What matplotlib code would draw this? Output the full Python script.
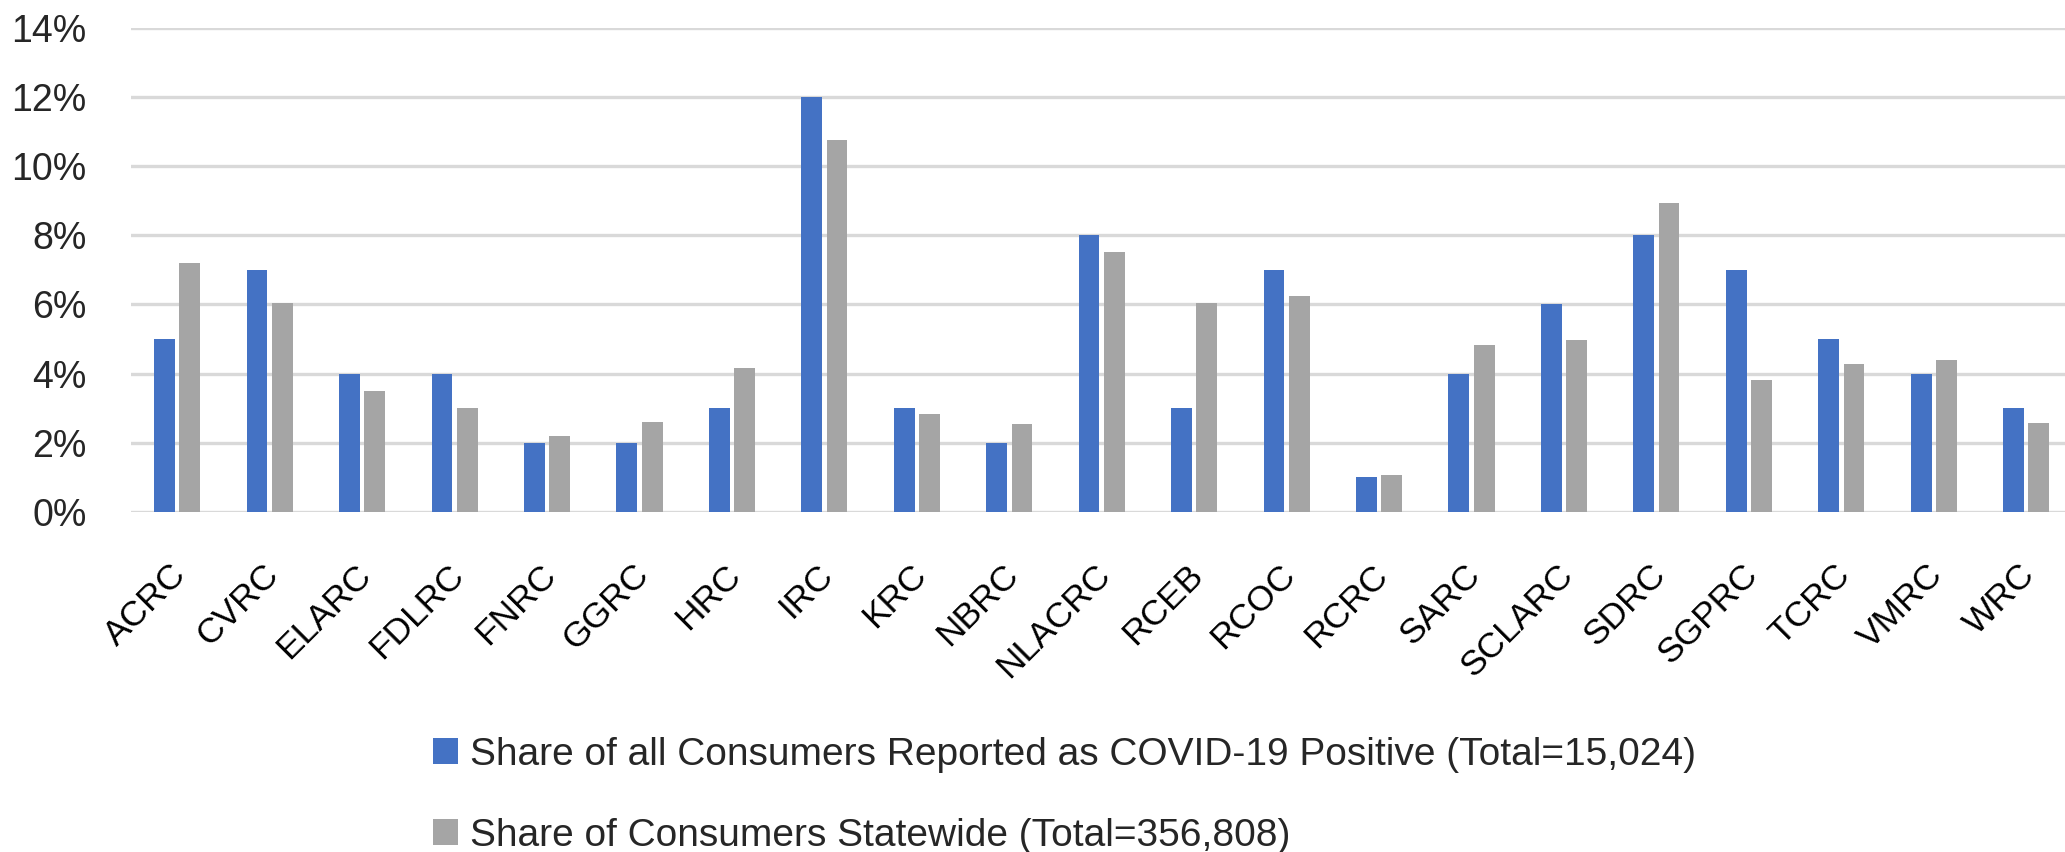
import matplotlib
matplotlib.use("Agg")
import matplotlib.pyplot as plt
import numpy as np
from matplotlib.ticker import FuncFormatter

categories = ["ACRC", "CVRC", "ELARC", "FDLRC", "FNRC", "GGRC", "HRC", "IRC", "KRC",
              "NBRC", "NLACRC", "RCEB", "RCOC", "RCRC", "SARC", "SCLARC", "SDRC",
              "SGPRC", "TCRC", "VMRC", "WRC"]
covid_positive = [5, 7, 4, 4, 2, 2, 3, 12, 3, 2, 8, 3, 7, 1, 4, 6, 8, 7, 5, 4, 3]
statewide = [7.2, 6.05, 3.5, 3.0, 2.2, 2.6, 4.15, 10.75, 2.82, 2.54, 7.51, 6.03,
             6.23, 1.07, 4.83, 4.96, 8.93, 3.81, 4.29, 4.38, 2.56]
series_labels = ["Share of all Consumers Reported as COVID-19 Positive (Total=15,024)",
                 "Share of Consumers Statewide (Total=356,808)"]
yticks = [0, 2, 4, 6, 8, 10, 12, 14]

plt.rcParams['font.family'] = ['Liberation Sans', 'DejaVu Sans']

W, H = 2065, 852
fig = plt.figure(figsize=(W / 100, H / 100), dpi=100)
left_px, bottom_px, top_px = 131, 512, 27.5
ax = fig.add_axes([left_px / W, 1 - bottom_px / H, 1 - left_px / W, (bottom_px - top_px) / H])

x = np.arange(len(categories))
bw = 0.225
off = 0.137
b1 = ax.bar(x - off, covid_positive, width=bw, color="#4472C4", label=series_labels[0], zorder=3)
b2 = ax.bar(x + off, statewide, width=bw, color="#A5A5A5", label=series_labels[1], zorder=3)

spacing_px = 92.45
ax.set_xlim(-0.5, -0.5 + (W - left_px) / spacing_px)
ax.set_ylim(0, 14)
ax.set_yticks(yticks)
ax.yaxis.set_major_formatter(FuncFormatter(lambda v, p: f"{v:.0f}%"))
ax.grid(axis="y", color="#D9D9D9", linewidth=2.4, zorder=0)
for s in ax.spines.values():
    s.set_visible(False)
ax.tick_params(axis="y", length=0, labelsize=27, colors="#262626", pad=32)
ax.tick_params(axis="x", length=0, labelsize=25.5, colors="#000000")

ax.set_xticks(x - 0.085)
ax.set_xticklabels(categories, rotation=45, ha="right", va="top", rotation_mode="anchor")
for lbl in ax.get_xticklabels():
    lbl.set_y(-0.085)

leg = fig.legend(handles=[b1, b2], labels=series_labels, loc="upper left",
                 bbox_to_anchor=(433 / W, 1 - 737 / H), frameon=False, fontsize=28,
                 handlelength=0.65, handleheight=0.65, handletextpad=0.3,
                 labelspacing=1.15, borderaxespad=0, borderpad=0)
for t in leg.get_texts():
    t.set_color("#262626")

fig.savefig("out.png", dpi=100)
